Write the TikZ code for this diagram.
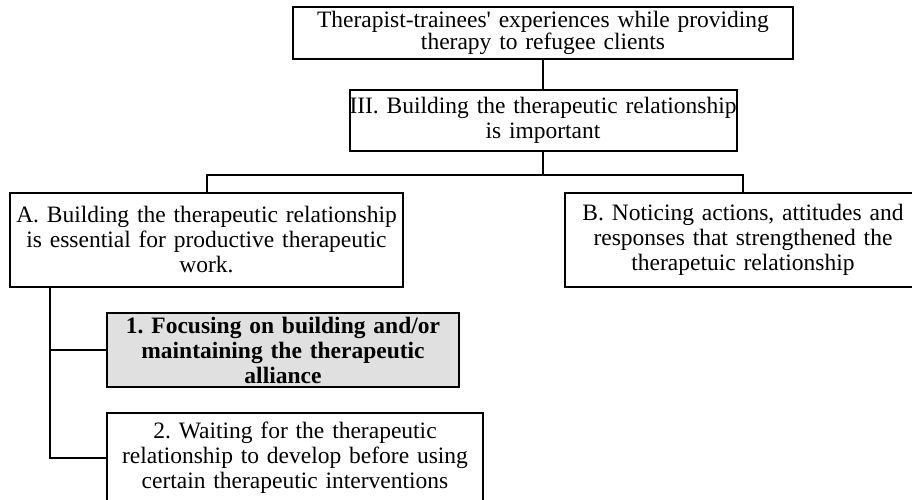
\documentclass[tikz,border=0pt]{standalone}
\usepackage{fontspec}
\setmainfont{Liberation Serif}[Ligatures=TeXOff]
\frenchspacing
\definecolor{boxgray}{HTML}{E0E0E0}
\tikzset{
  box/.style={draw=black, line width=2pt, rectangle, inner sep=0pt, align=center,
    font=\fontsize{23.5}{25}\selectfont\frenchspacing},
  conn/.style={draw=black, line width=2pt}
}
\begin{document}
\begin{tikzpicture}[x=1pt,y=-1pt]
\useasboundingbox (0,0) rectangle (912,499);
\clip (0,0) rectangle (912,499);
\node[box, minimum width=500pt, minimum height=52pt, text width=500pt,
  font=\fontsize{23.5}{19}\selectfont\frenchspacing] (top) at (543,33)
  {Therapist-trainees' experiences while providing\\therapy to refugee clients};
\node[box, minimum width=387pt, minimum height=61pt, text width=387pt] (iii) at (543,120.5)
  {III. Building the therapeutic relationship\\is important};
\node[box, minimum width=393pt, minimum height=94pt, text width=393pt] (a) at (206.5,240)
  {A. Building the therapeutic relationship\\is essential for productive therapeutic\\work.};
\node[box, minimum width=356pt, minimum height=94pt, text width=356pt] (b) at (743,240)
  {B. Noticing actions, attitudes and\\responses that strengthened the\\therapetuic relationship};
\node[box, fill=boxgray, minimum width=352pt, minimum height=74pt, text width=352pt,
  font=\fontsize{23.5}{25}\selectfont\bfseries\frenchspacing] (one) at (283,350)
  {1. Focusing on building and/or\\maintaining the therapeutic\\alliance};
\node[box, minimum width=376pt, minimum height=90pt, text width=376pt] (two) at (295,458)
  {2. Waiting for the therapeutic\\relationship to develop before using\\certain therapeutic interventions};
\coordinate (j) at (543,175);
\coordinate (s) at (50,287);
\draw[conn] (top) -- (iii);
\draw[conn] (iii) -- (j) -| (a);
\draw[conn] (j) -| (b);
\draw[conn] (s) |- (one.west);
\draw[conn] (s) |- (two.west);
\end{tikzpicture}
\end{document}
